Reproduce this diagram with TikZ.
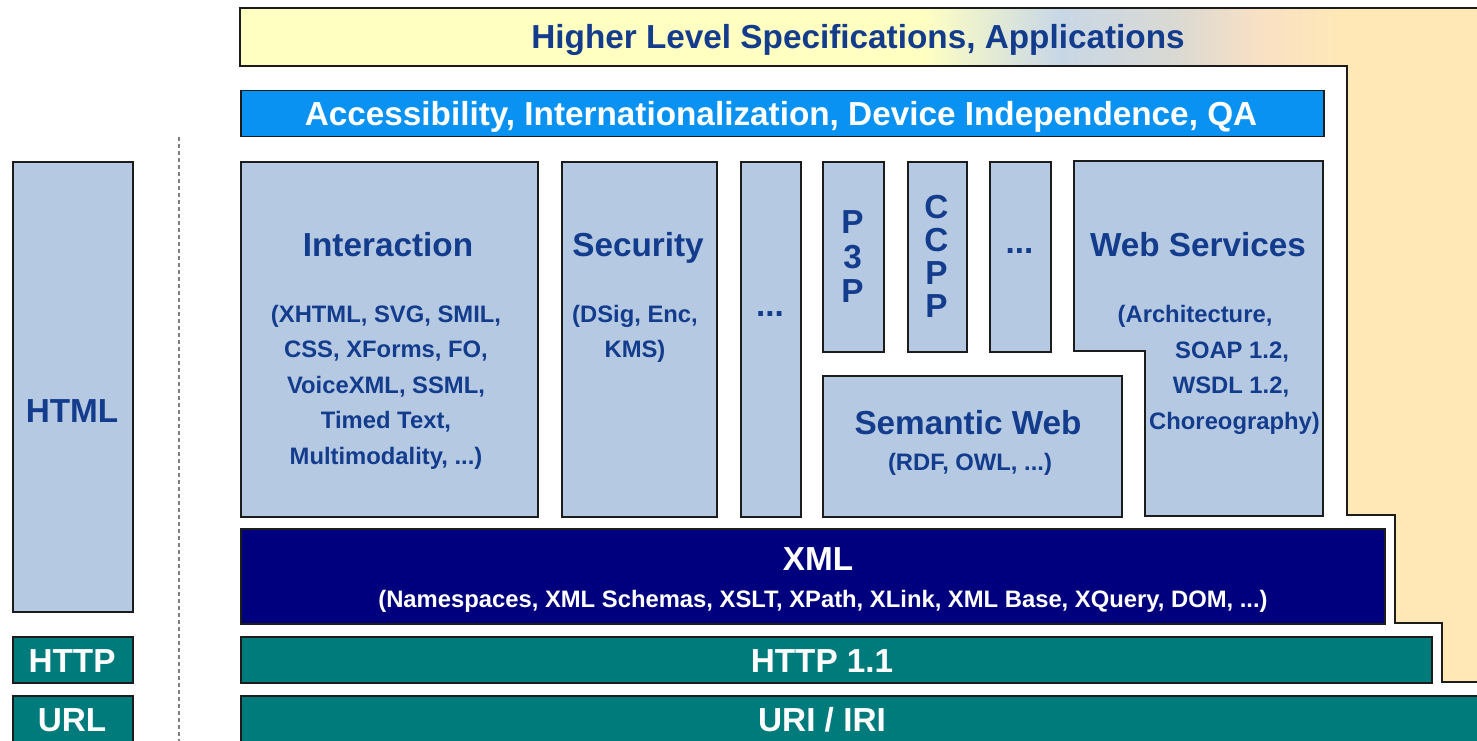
\documentclass[tikz,border=0pt]{standalone}
\usepackage{fontspec}
\setmainfont{Liberation Sans}
\definecolor{lb}{HTML}{B5C9E2}
\definecolor{edge}{HTML}{1C1C1C}
\definecolor{navytxt}{HTML}{143C8C}
\definecolor{accblue}{HTML}{0A92F2}
\definecolor{xmlnavy}{HTML}{00007F}
\definecolor{tealc}{HTML}{007B7B}
\definecolor{hy}{HTML}{FFFFC2}
\definecolor{hl}{HTML}{C8D7E6}
\definecolor{hg}{HTML}{D9D9D3}
\definecolor{hp}{HTML}{F8E0C4}
\definecolor{hb}{HTML}{FFE8B6}
% path bounding box maps onto 25bp..75bp of the shading
\pgfdeclarehorizontalshading{hlshade}{100bp}{color(0bp)=(hy); color(52.5bp)=(hy); color(58bp)=(hl); color(62.5bp)=(hg); color(66bp)=(hp); color(69.4bp)=(hb); color(100bp)=(hb)}
\begin{document}
\begin{tikzpicture}[x=1pt,y=-1pt,
  outl/.style={draw=edge, line width=1.5pt},
  box/.style={outl, fill=lb, inner sep=0pt, anchor=north west},
  tealbox/.style={outl, fill=tealc, inner sep=0pt, anchor=north west},
  big/.style={font=\bfseries\fontsize{33.3}{36}\selectfont, text=navytxt, inner sep=0pt, text height=24pt, text depth=0pt},
  small/.style={font=\bfseries\fontsize{23.8}{35.5}\selectfont, text=navytxt, inner sep=0pt, align=center},
  bigw/.style={big, text=white},
  dotsst/.style={font=\bfseries\fontsize{33.3}{36}\selectfont, text=navytxt, inner sep=0pt, anchor=base},
  vert/.style={font=\bfseries\fontsize{33.3}{34.5}\selectfont, text=navytxt, inner sep=0pt, align=center}
]
\useasboundingbox (0,0) rectangle (1477,741);
\fill[white] (0,0) rectangle (1477,741);

% higher level background
\path[outl, shading=hlshade] (240,8) -- (1482,8) -- (1482,682) -- (1442,682) -- (1442,623) -- (1395,623) -- (1395,515) -- (1347,515) -- (1347,66) -- (240,66) -- cycle;
\node[big] (hl) at (858,37) {Higher Level Specifications, Applications};

% accessibility
\node[outl, fill=accblue, anchor=north west, minimum width=1083pt, minimum height=46pt, inner sep=0pt] (acc) at (240,90) {};
\node[bigw] (accT) at (781,113) {Accessibility, Internationalization, Device Independence, QA};

% interaction
\node[box, minimum width=297pt, minimum height=355pt] (inter) at (240,161) {};
\node[big] (interT) at (388,244) {Interaction};
\node[small] (interS) at (386,387) {(XHTML, SVG, SMIL,\\CSS, XForms, FO,\\VoiceXML, SSML,\\Timed Text,\\Multimodality, ...)};

% security
\node[box, minimum width=155pt, minimum height=355pt] (sec) at (561,161) {};
\node[big] (secT) at (638,244) {Security};
\node[small] (secS) at (635,334) {(DSig, Enc,\\KMS)};

% dots column
\node[box, minimum width=60pt, minimum height=355pt] (dots1) at (740,161) {};
\node[dotsst] (dots1T) at (770,316) {...};

% P3P
\node[box, minimum width=61pt, minimum height=190pt] (p3p) at (822,161) {};
\node[vert] (p3pT) at (852.5,257) {P\\3\\P};

% CCPP
\node[box, minimum width=59pt, minimum height=190pt] (ccpp) at (907,161) {};
\node[font=\bfseries\fontsize{33.3}{33}\selectfont, text=navytxt, inner sep=0pt, align=center] (ccppT) at (936.5,256) {C\\C\\P\\P};

% dots 2
\node[box, minimum width=61pt, minimum height=190pt] (dots2) at (989,161) {};
\node[dotsst] (dots2T) at (1019.5,253) {...};

% web services
\path[outl, fill=lb] (1074,161) -- (1323,161) -- (1323,516) -- (1145,516) -- (1145,351) -- (1074,351) -- cycle;
\node[big] (wsT) at (1198,244) {Web Services};
\node[small] (ws1) at (1195,316) {(Architecture,};
\node[small] (ws2) at (1232,352) {SOAP 1.2,};
\node[small] (ws3) at (1231,387) {WSDL 1.2,};
\node[small] (ws4) at (1234.5,423) {Choreography)};

% semantic web
\node[box, minimum width=299pt, minimum height=141pt] (sw) at (822,375) {};
\node[big] (swT) at (968,422) {Semantic Web};
\node[small] (swS) at (970,464) {(RDF, OWL, ...)};

% XML
\node[outl, fill=xmlnavy, anchor=north west, minimum width=1144pt, minimum height=95pt, inner sep=0pt] (xml) at (240,528) {};
\node[bigw] (xmlT) at (818,558) {XML};
\node[small, text=white] (xmlS) at (823,601) {(Namespaces, XML Schemas, XSLT, XPath, XLink, XML Base, XQuery, DOM, ...)};

% HTTP 1.1
\node[tealbox, minimum width=1191pt, minimum height=46pt] (http11) at (240,636) {};
\node[bigw] (http11T) at (822,660) {HTTP 1.1};

% URI/IRI
\node[tealbox, minimum width=1250pt, minimum height=50pt] (uri) at (240,695) {};
\node[bigw] (uriT) at (822,719) {URI / IRI};

% left column
\node[box, minimum width=120pt, minimum height=450pt] (html) at (12,161) {};
\node[big] (htmlT) at (72,410) {HTML};
\node[tealbox, minimum width=120pt, minimum height=46pt] (http) at (12,636) {};
\node[bigw] (httpT) at (72,660) {HTTP};
\node[tealbox, minimum width=120pt, minimum height=50pt] (url) at (12,695) {};
\node[bigw] (urlT) at (72,719) {URL};

% dashed separator
\coordinate (sepA) at (179,137);
\coordinate (sepB) at (179,745);
\draw[gray, line width=1.2pt, dash pattern=on 4pt off 3pt] (sepA) -- (sepB);
\end{tikzpicture}
\end{document}
